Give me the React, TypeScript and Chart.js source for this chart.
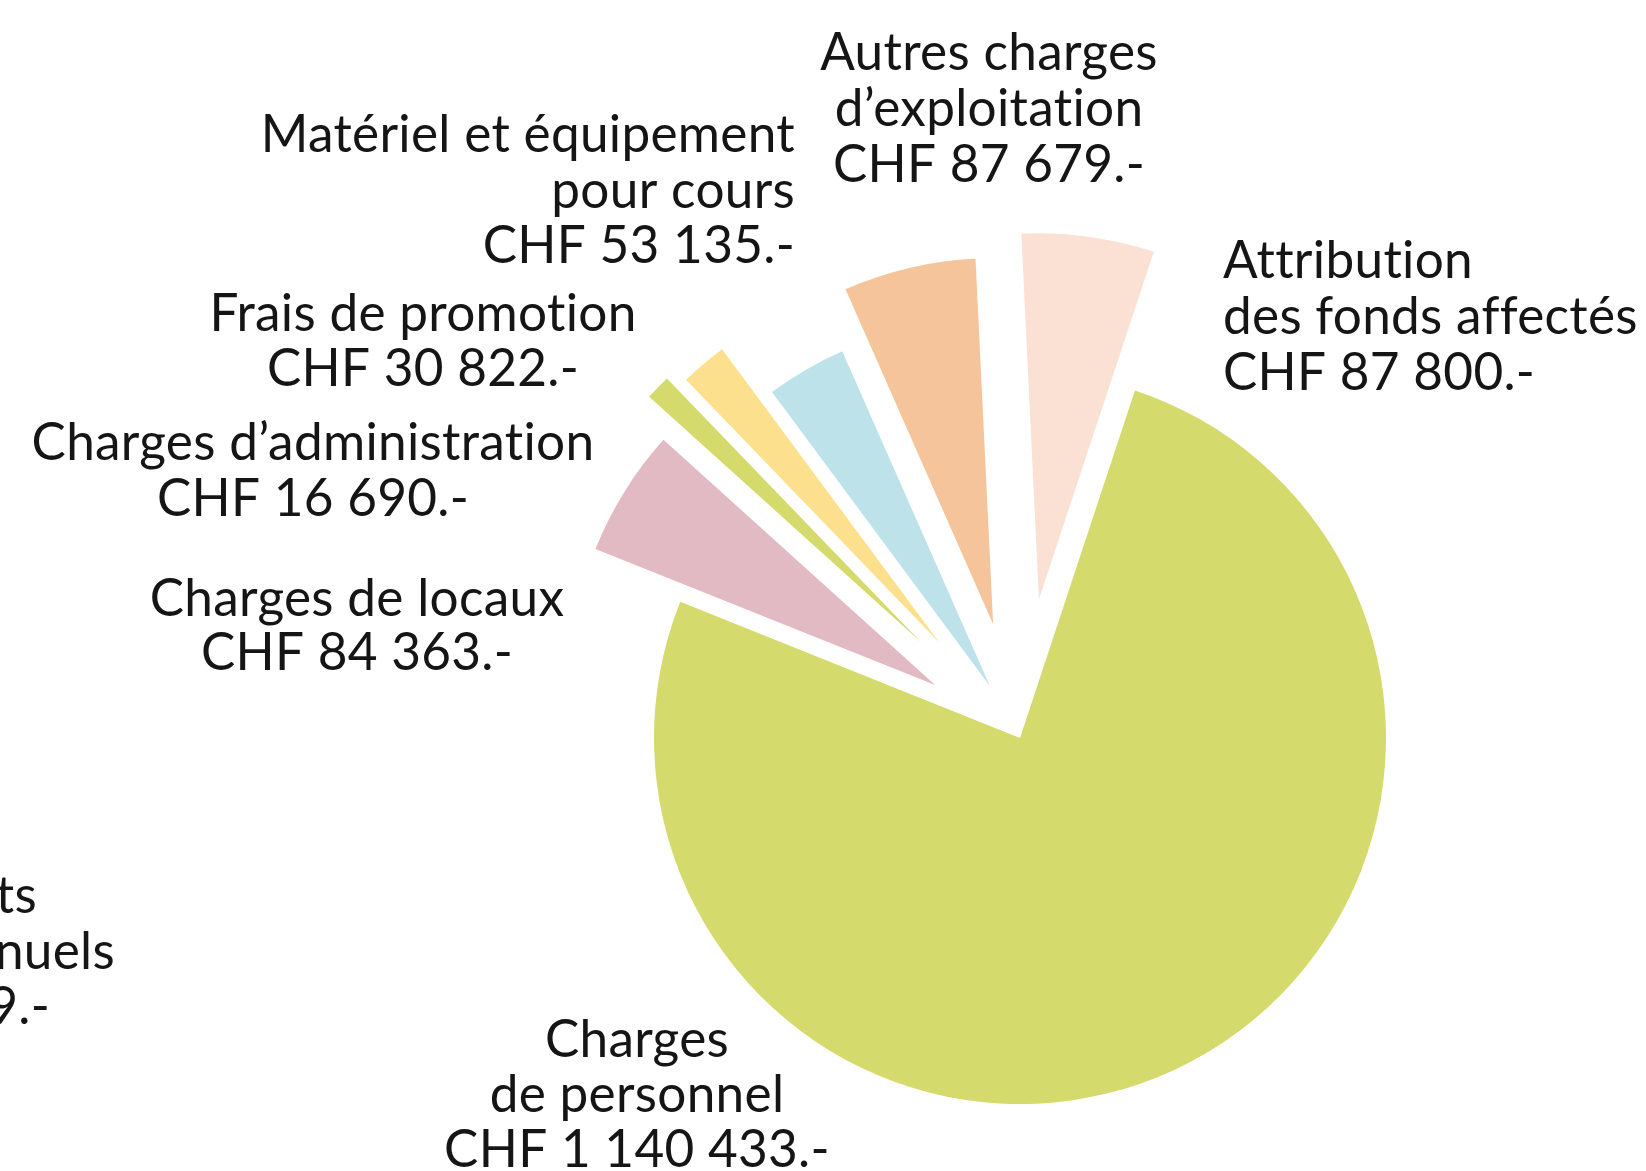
import React, { useEffect, useRef } from "react";
import { Chart, registerables } from "chart.js";

Chart.register(...registerables);

// ---- data ----
const categories = [
  "Charges de personnel",
  "Charges de locaux",
  "Charges d’administration",
  "Frais de promotion",
  "Matériel et équipement pour cours",
  "Autres charges d’exploitation",
  "Attribution des fonds affectés",
];
const categoryLines = [
  ["Charges", "de personnel"],
  ["Charges de locaux"],
  ["Charges d’administration"],
  ["Frais de promotion"],
  ["Matériel et équipement", "pour cours"],
  ["Autres charges", "d’exploitation"],
  ["Attribution", "des fonds affectés"],
];
const values = [1140433, 84363, 16690, 30822, 53135, 87679, 87800];
// partially visible label from the neighbouring figure (cut by the left edge)
const clippedLabelLines = ["ts", "nuels", "9.-"];

// ---- styles / layout ----
const COLORS = ["#D4DB6C", "#E2BAC4", "#D4DB6C", "#FDE08E", "#BEE2EA", "#F6C49B", "#FBE0D4"];
const EXPLODE = [0, 100, 138, 124, 60, 117, 140];
const LABEL_LAYOUT = [
  { x: 637, ys: [1057, 1112, 1167], align: "center" },
  { x: 357, ys: [616, 670], align: "center" },
  { x: 313, ys: [460, 516], align: "center" },
  { x: 423, ys: [331, 386], align: "center" },
  { x: 795, ys: [152, 208, 263], align: "right" },
  { x: 989, ys: [70, 126, 182], align: "center" },
  { x: 1223, ys: [278, 334, 390], align: "left" },
];
const CLIPPED_LAYOUT = { xs: [37, 115, 50], ys: [913, 969, 1024] };
const FONT_FAMILY = "Lato, 'Open Sans', sans-serif";

function formatCHF(v: number) {
  return "CHF " + String(v).replace(/\B(?=(\d{3})+(?!\d))/g, " ") + ".-";
}

const explodePlugin = {
  id: "explodeSlices",
  beforeDatasetsDraw(chart: any) {
    const meta = chart.getDatasetMeta(0);
    const ca = chart.chartArea;
    const cx = (ca.left + ca.right) / 2;
    const cy = (ca.top + ca.bottom) / 2;
    meta.data.forEach((arc: any, i: number) => {
      const d = EXPLODE[i] || 0;
      const mid = (arc.startAngle + arc.endAngle) / 2;
      arc.x = cx + Math.cos(mid) * d;
      arc.y = cy + Math.sin(mid) * d;
    });
  },
};

const labelPlugin = {
  id: "sliceLabels",
  afterDraw(chart: any) {
    const ctx = chart.ctx as any;
    ctx.save();
    if ("letterSpacing" in ctx) ctx.letterSpacing = "0.3px";
    // calibrate font size on reference widths
    ctx.font = `400 100px ${FONT_FAMILY}`;
    const w =
      ctx.measureText("Charges d’administration").width +
      ctx.measureText("Matériel et équipement").width +
      ctx.measureText("CHF 16 690.-").width;
    const size = (100 * 1400) / w;
    ctx.font = `400 ${size.toFixed(1)}px ${FONT_FAMILY}`;
    ctx.fillStyle = "#151515";
    ctx.textBaseline = "alphabetic";
    categoryLines.forEach((lines, i) => {
      const lay = LABEL_LAYOUT[i];
      const all = [...lines, formatCHF(values[i])];
      ctx.textAlign = lay.align as CanvasTextAlign;
      all.forEach((t, j) => ctx.fillText(t, lay.x, lay.ys[j]));
    });
    ctx.textAlign = "right";
    clippedLabelLines.forEach((t, j) => ctx.fillText(t, CLIPPED_LAYOUT.xs[j], CLIPPED_LAYOUT.ys[j]));
    ctx.restore();
  },
};

export default function App() {
  const ref = useRef<HTMLCanvasElement | null>(null);
  useEffect(() => {
    if (!ref.current) return;
    const chart = new Chart(ref.current, {
      type: "pie",
      data: {
        labels: categories,
        datasets: [
          {
            data: values,
            backgroundColor: COLORS,
            borderWidth: 0,
          },
        ],
      },
      options: {
        responsive: false,
        animation: false,
        events: [],
        rotation: 18.3,
        radius: 366,
        layout: { padding: { left: 394, right: 0, top: 305, bottom: 0 } },
        plugins: {
          legend: { display: false },
          tooltip: { enabled: false },
        },
      },
      plugins: [explodePlugin, labelPlugin],
    });
    return () => chart.destroy();
  }, []);
  return (
    <div style={{ position: "fixed", left: 0, top: 0, width: 1646, height: 1171, background: "#fff" }}>
      <canvas ref={ref} width={1646} height={1171} style={{ display: "block" }} />
    </div>
  );
}
